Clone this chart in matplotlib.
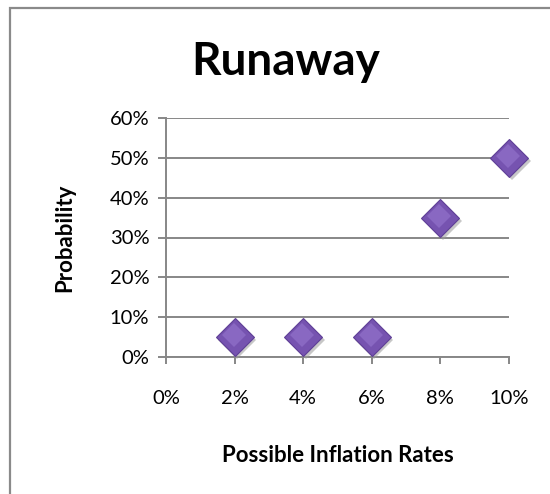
import matplotlib.pyplot as plt
from matplotlib.patches import Rectangle
from matplotlib.ticker import FuncFormatter
import matplotlib.transforms as mtransforms

plt.rcParams['font.family'] = ['Lato', 'DejaVu Sans']

# inflation rate (%) vs probability (%)
rates = [2, 4, 6, 8, 10]
probability = [5, 5, 5, 35, 50]
x_ticks = [0, 2, 4, 6, 8, 10]
y_ticks = [0, 10, 20, 30, 40, 50, 60]

grey = "#878787"

fig = plt.figure(figsize=(5.5, 4.94), dpi=100)
ax = fig.add_axes([166 / 550, 1 - 357 / 494, (509 - 166) / 550, (357 - 118) / 494])

# outer chart frame, runs off the right and bottom edges
fig.patches.append(Rectangle((10 / 550, -0.1), 1.2, 1.1 - 8 / 494, transform=fig.transFigure,
                             fill=False, edgecolor="#8a8a8a", linewidth=1.6))

# drop shadow under each diamond, then the diamond and a soft highlight
shadow = mtransforms.offset_copy(ax.transData, fig=fig, x=2.5, y=-3, units="dots")
ax.plot(rates, probability, linestyle="none", marker="D", markersize=19,
        color="#9a9a9a", alpha=0.55, markeredgewidth=0, transform=shadow, zorder=3, clip_on=False)
ax.plot(rates, probability, linestyle="none", marker="D", markersize=19,
        markerfacecolor="#7653b0", markeredgecolor="#5f3f96", markeredgewidth=0.8,
        zorder=4, clip_on=False)
glow = mtransforms.offset_copy(ax.transData, fig=fig, x=-1, y=2, units="dots")
ax.plot(rates, probability, linestyle="none", marker="D", markersize=12,
        color="#9a7bd2", alpha=0.55, markeredgewidth=0, transform=glow, zorder=5, clip_on=False)

ax.set_xlim(0, 10)
ax.set_ylim(0, 60)
ax.set_xticks(x_ticks)
ax.set_yticks(y_ticks)
pct = FuncFormatter(lambda v, _: f"{v:.0f}%")
ax.xaxis.set_major_formatter(pct)
ax.yaxis.set_major_formatter(pct)

ax.grid(axis="y", color=grey, linewidth=1.4)
ax.set_axisbelow(True)
for side in ("top", "right"):
    ax.spines[side].set_visible(False)
for side in ("left", "bottom"):
    ax.spines[side].set_color(grey)
    ax.spines[side].set_linewidth(1.4)

ax.tick_params(axis="x", direction="out", length=5, width=1.4, color=grey,
               labelsize=14.5, pad=19)
ax.tick_params(axis="y", direction="out", length=6, width=1.4, color=grey,
               labelsize=14.5, pad=6)

ax.set_xlabel("Possible Inflation Rates", fontsize=16, fontweight="bold", labelpad=27)
ax.set_ylabel("Probability", fontsize=16, fontweight="bold", labelpad=25)
fig.text(286 / 550, 1 - 62 / 494, "Runaway", ha="center", va="center",
         fontsize=33, fontweight="bold")

fig.savefig("out.png", dpi=100)
